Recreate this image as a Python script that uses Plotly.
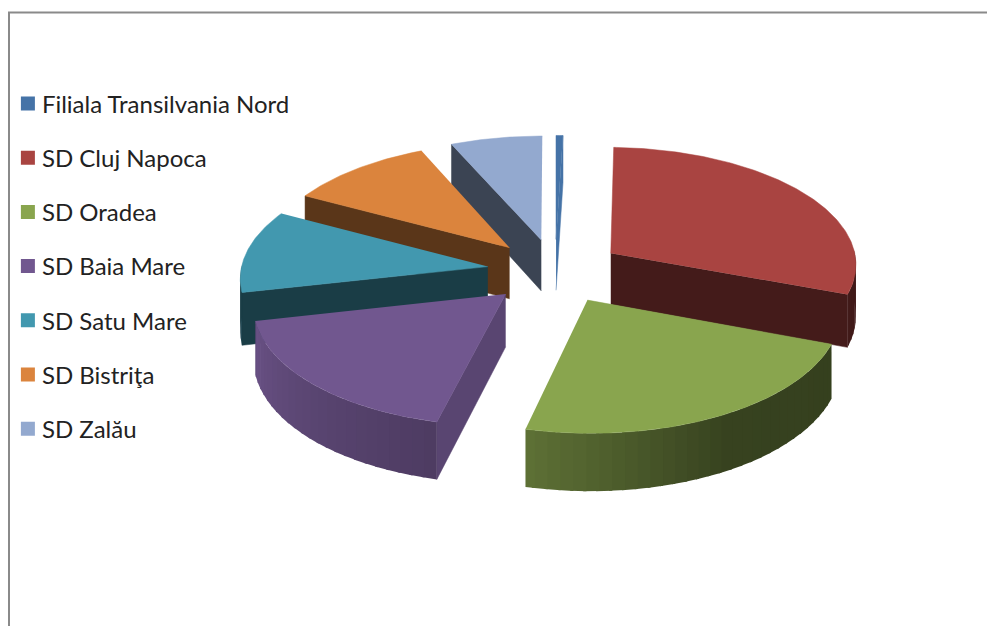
import numpy as np
import plotly.graph_objects as go

# ---- data ----
categories = ["Filiala Transilvania Nord", "SD Cluj Napoca", "SD Oradea", "SD Baia Mare",
              "SD Satu Mare", "SD Bistriţa", "SD Zalău"]
values = [0.5, 30.2, 23.1, 17.7, 11.35, 10.55, 6.6]

# ---- style ----
top_colors = ["#4573a7", "#a94441", "#89a54e", "#71578f", "#4298af", "#db843d", "#93a9cf"]
wall_shade = [1.0, 0.40, 0.40, 0.79, 0.40, 0.41, 0.40]
draw_order = [0, 6, 5, 4, 1, 3, 2]
ROT, CX, CY, EXPLODE, R, K, Q, H = 0.0, 555.0, 271.0, 68.0, 247.0, 0.475, 0.00033, 52.0


def project(X, Y, drop=0.0):
    w = 1 - np.asarray(Y) * Q
    return CX + np.asarray(X) / w, CY + K * np.asarray(Y) / w + drop / w


def shade(hex_color, f):
    rgb = [int(hex_color[i:i + 2], 16) for i in (1, 3, 5)]
    return "rgb(%d,%d,%d)" % tuple(min(255, round(c * f)) for c in rgb)


def arc_shade(t):
    return float(np.interp(t, [90, 150, 193, 225, 257, 259, 300], [.38, .40, .68, .79, .93, .40, .40]))


fig = go.Figure()


def poly(xs, ys, color, lw=1.0):
    fig.add_trace(go.Scatter(x=list(xs), y=list(ys), mode="lines", fill="toself", fillcolor=color,
                             line=dict(color=color, width=lw), showlegend=False, hoverinfo="skip"))


total = sum(values)
edges = ROT + np.cumsum([0] + values) / total * 360
for i in draw_order:
    a0, a1 = edges[i], edges[i + 1]
    mid = np.radians((a0 + a1) / 2)
    ax, ay = EXPLODE * np.sin(mid), -EXPLODE * np.cos(mid)
    ts = np.linspace(a0, a1, max(3, int((a1 - a0) * 1.5)))
    px = ax + R * np.sin(np.radians(ts))
    py = ay - R * np.cos(np.radians(ts))
    wall = shade(top_colors[i], wall_shade[i])
    # radial walls that face the viewer
    for t, ex, ey, visible in ((a0, px[0], py[0], np.sin(np.radians(a0)) < 0),
                               (a1, px[-1], py[-1], np.sin(np.radians(a1)) > 0)):
        if visible:
            x1, y1 = project([ax, ex], [ay, ey])
            x2, y2 = project([ex, ax], [ey, ay], H)
            poly(np.r_[x1, x2], np.r_[y1, y2], wall, 0.5)
    # outer rim, drawn as one shaded band per few degrees (bands overlap to hide seams)
    step = 4
    for j in range(0, len(ts) - 1, step):
        tm = ts[min(j + step // 2, len(ts) - 1)]
        if np.cos(np.radians(tm)) < 0.03:
            seg_x, seg_y = px[j:j + step + 2], py[j:j + step + 2]
            x1, y1 = project(seg_x, seg_y)
            x2, y2 = project(seg_x[::-1], seg_y[::-1], H)
            poly(np.r_[x1, x2], np.r_[y1, y2], shade(top_colors[i], arc_shade(tm)), 0)
    # top face
    tx, ty = project(np.r_[ax, px], np.r_[ay, py])
    poly(tx, ty, top_colors[i], 0.5)

# legend entries
for name, col in zip(categories, top_colors):
    fig.add_trace(go.Scatter(x=[None], y=[None], mode="markers", name=name, legendgroup=name,
                             marker=dict(symbol="square", size=14, color=col)))

fig.update_layout(
    width=987, height=626, margin=dict(l=0, r=0, t=0, b=0),
    paper_bgcolor="white", plot_bgcolor="white",
    xaxis=dict(range=[0, 987], visible=False, fixedrange=True),
    yaxis=dict(range=[626, 0], visible=False, fixedrange=True),
    font=dict(family="Lato, Carlito, sans-serif", size=24, color="#222222"),
    legend=dict(x=0.008, y=0.870, xanchor="left", yanchor="top", tracegroupgap=20,
                bgcolor="rgba(0,0,0,0)", indentation=-6),
    shapes=[dict(type="line", xref="paper", yref="paper", x0=9 / 987, x1=9 / 987, y0=0, y1=1 - 12 / 626,
                 line=dict(color="#8a8a8a", width=2)),
            dict(type="line", xref="paper", yref="paper", x0=8 / 987, x1=1, y0=1 - 12.5 / 626, y1=1 - 12.5 / 626,
                 line=dict(color="#8a8a8a", width=2))],
)
fig.write_html("out.html", config=dict(displayModeBar=False),
               post_script="document.body.style.margin='0';document.body.style.overflow='hidden';"
                           "document.querySelectorAll('.legend path.scatterpts').forEach(function(p){"
                           "p.setAttribute('transform','translate(26,0)');});")
